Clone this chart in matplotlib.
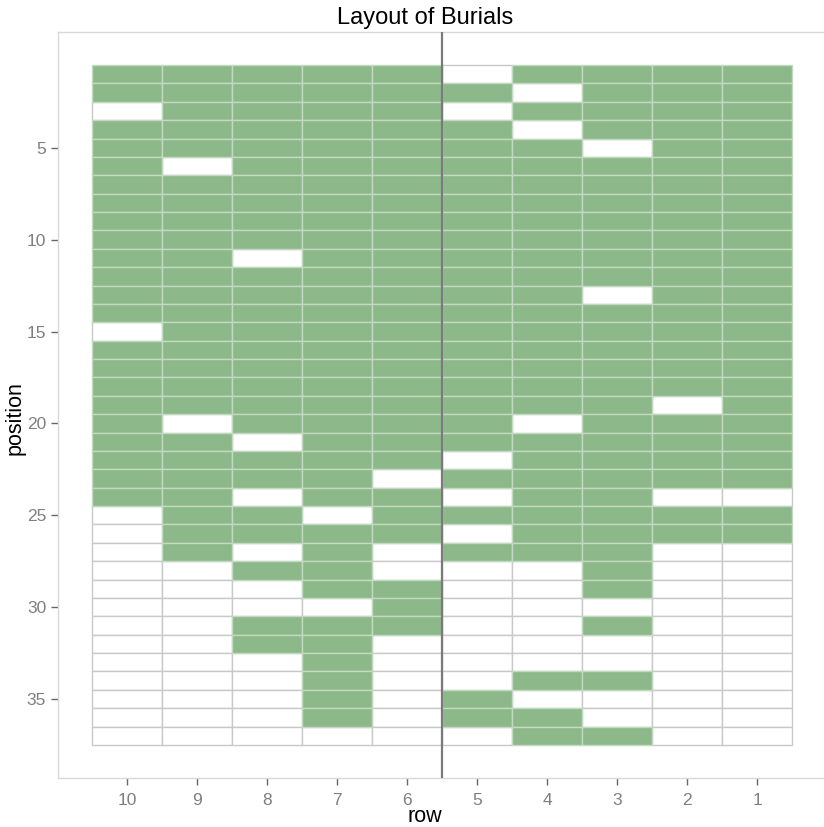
import matplotlib
matplotlib.use("Agg")
import matplotlib.pyplot as plt

plt.rcParams['font.family'] = ['Liberation Sans', 'DejaVu Sans']

# grid of burial plots: rows 1..10, positions 1..37
rows = [10, 9, 8, 7, 6, 5, 4, 3, 2, 1]
n_positions = 37

# empty positions per row (everything else is a burial)
empty = {
    10: [3, 15, 25, 26, 27, 28, 29, 30, 31, 32, 33, 34, 35, 36, 37],
    9: [6, 20, 28, 29, 30, 31, 32, 33, 34, 35, 36, 37],
    8: [11, 21, 24, 27, 29, 30, 33, 34, 35, 36, 37],
    7: [25, 30, 37],
    6: [23, 27, 28, 32, 33, 34, 35, 36, 37],
    5: [1, 3, 22, 24, 26, 28, 29, 30, 31, 32, 33, 34, 37],
    4: [2, 4, 20, 28, 29, 30, 31, 32, 33, 35],
    3: [5, 13, 30, 32, 33, 35, 36],
    2: [19, 24, 27, 28, 29, 30, 31, 32, 33, 34, 35, 36, 37],
    1: [24, 27, 28, 29, 30, 31, 32, 33, 34, 35, 36, 37],
}

row_ticks = [1, 2, 3, 4, 5, 6, 7, 8, 9, 10]
pos_ticks = [5, 10, 15, 20, 25, 30, 35]
divider = 5.5

green = '#8db98a'
tick_gray = '#7f7f7f'

fig = plt.figure(figsize=(8.24, 8.27), dpi=100)
ax = fig.add_axes([58 / 824, 49 / 827, 768 / 824, 746 / 827])

# white cells first, then green ones on top
wx, wy, gx, gy = [], [], [], []
for r in rows:
    for p in range(1, n_positions + 1):
        if p in empty[r]:
            wx.append(r)
            wy.append(p)
        else:
            gx.append(r)
            gy.append(p)

ax.bar(wx, 1, bottom=[p - 0.5 for p in wy], width=1, color='white',
       edgecolor='#c9c9c9', linewidth=1, zorder=2)
ax.bar(gx, 1, bottom=[p - 0.5 for p in gy], width=1, color=green,
       edgecolor='#c3d9c1', linewidth=1, zorder=3)

ax.axvline(divider, color='#7a7a7a', linewidth=1.6, zorder=4)

ax.set_xlim(10.985, 0.015)
ax.set_ylim(39.3, -1.3)
ax.set_xticks(row_ticks)
ax.set_yticks(pos_ticks)
ax.tick_params(colors='#666666', labelcolor=tick_gray, labelsize=12.5,
               length=5, width=1)
ax.tick_params(axis='x', pad=6)

for s in ['left', 'top', 'bottom']:
    ax.spines[s].set_color('#d9d9d9')
    ax.spines[s].set_linewidth(1)
ax.spines['right'].set_visible(False)

fig.text(425 / 824, 1 - 18 / 827, 'Layout of Burials', ha='center',
         va='center', fontsize=17)
fig.text(425 / 824, 1 - 817 / 827, 'row', ha='center', va='center',
         fontsize=15.5)
fig.text(15 / 824, 1 - 418 / 827, 'position', ha='center', va='center',
         fontsize=15.5, rotation=90)

fig.savefig('out.png', dpi=100)
